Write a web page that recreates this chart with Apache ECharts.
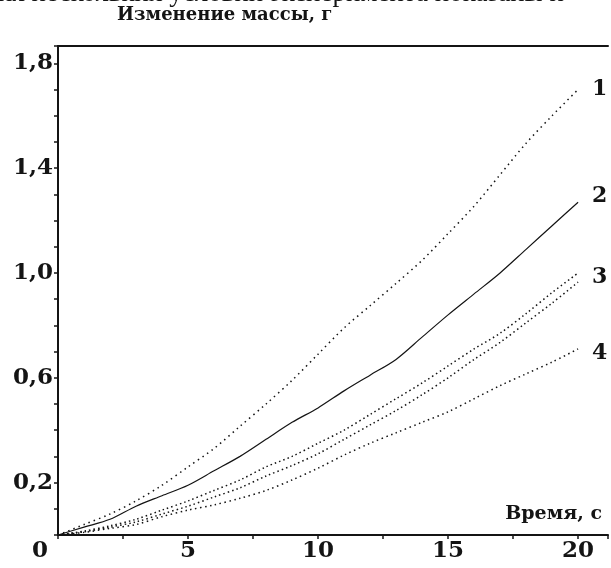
<!DOCTYPE html>
<html>
<head>
<meta charset="utf-8">
<script src="https://cdn.jsdelivr.net/npm/echarts@6/dist/echarts.min.js"></script>
<style>
  html, body { margin: 0; padding: 0; background: #fff; }
  #chart { width: 611px; height: 568px; }
</style>
</head>
<body>
<div id="chart"></div>
<script>
// время, с
var timeData = [0, 1, 2, 3, 4, 5, 6, 7, 8, 9, 10, 11, 12, 13, 14, 15, 16, 17, 18, 19, 20];
// изменение массы, г
var curve1 = [0, 0.04, 0.08, 0.13, 0.19, 0.26, 0.33, 0.415, 0.50, 0.59, 0.69, 0.79, 0.875, 0.96, 1.048, 1.15, 1.255, 1.375, 1.495, 1.60, 1.70];
var curve2 = [0, 0.03, 0.06, 0.11, 0.15, 0.19, 0.245, 0.30, 0.365, 0.43, 0.485, 0.55, 0.61, 0.67, 0.755, 0.84, 0.92, 1.00, 1.09, 1.18, 1.27];
var curve3a = [0, 0.015, 0.035, 0.06, 0.095, 0.13, 0.17, 0.21, 0.26, 0.30, 0.35, 0.40, 0.46, 0.52, 0.58, 0.645, 0.71, 0.77, 0.845, 0.925, 1.0];
var curve3b = [0, 0.012, 0.03, 0.05, 0.08, 0.11, 0.145, 0.18, 0.225, 0.265, 0.31, 0.365, 0.42, 0.475, 0.535, 0.60, 0.67, 0.735, 0.81, 0.885, 0.965];
var curve4 = [0, 0.01, 0.025, 0.04, 0.07, 0.095, 0.115, 0.14, 0.17, 0.21, 0.255, 0.305, 0.35, 0.39, 0.43, 0.47, 0.52, 0.57, 0.615, 0.66, 0.71];

var yLabels = [0.2, 0.6, 1.0, 1.4, 1.8];
var xLabels = [5, 10, 15, 20];

var ink = '#141414';
var serif = '"Liberation Serif", "Times New Roman", serif';
var slab = '"DejaVu Serif", serif';

function pairs(ys) {
  return timeData.map(function (t, i) { return [t, ys[i]]; });
}

function makeLine(name, ys, dash, width, label) {
  var s = {
    name: name,
    type: 'line',
    data: pairs(ys),
    smooth: 0.3,
    symbol: 'none',
    lineStyle: { color: ink, width: width, type: dash },
    silent: true
  };
  if (label) {
    s.endLabel = {
      show: true,
      formatter: label.text,
      offset: label.offset,
      color: ink,
      fontFamily: slab,
      fontWeight: 'bold',
      fontSize: 22
    };
  }
  return s;
}

var chart = echarts.init(document.getElementById('chart'));

var option = {
  animation: false,
  backgroundColor: '#fff',
  grid: { left: 58, right: 0, top: 46, bottom: 33 },
  xAxis: [
    {
      type: 'value',
      min: 0,
      max: 21.15,
      interval: 2.5,
      axisLine: { show: true, lineStyle: { color: ink, width: 2 } },
      axisTick: { show: true, length: 4, lineStyle: { color: ink, width: 1.5 } },
      splitLine: { show: false },
      axisLabel: {
        margin: 5,
        color: ink,
        fontFamily: slab,
        fontWeight: 'bold',
        fontSize: 23,
        formatter: function (v) {
          return xLabels.indexOf(Math.round(v * 10) / 10) >= 0 ? String(v) : '';
        }
      }
    },
    {
      // верхняя рамка
      type: 'value',
      position: 'top',
      min: 0,
      max: 21.15,
      axisLine: { show: true, lineStyle: { color: ink, width: 2 } },
      axisTick: { show: false },
      axisLabel: { show: false },
      splitLine: { show: false }
    }
  ],
  yAxis: {
    type: 'value',
    min: 0,
    max: 1.866,
    interval: 0.1,
    axisLine: { show: true, lineStyle: { color: ink, width: 2 } },
    axisTick: { show: true, length: 4, lineStyle: { color: ink, width: 1.5 } },
    splitLine: { show: false },
    axisLabel: {
      margin: 5,
      color: ink,
      fontFamily: slab,
      fontWeight: 'bold',
      fontSize: 23,
      formatter: function (v) {
        var r = Math.round(v * 10) / 10;
        return yLabels.indexOf(r) >= 0 ? r.toFixed(1).replace('.', ',') : '';
      }
    }
  },
  graphic: [
    {
      // обрезанная строка текста над рисунком
      type: 'text',
      left: -2,
      top: -20,
      style: {
        text: 'ия нескольких условий эксперимента показаны н',
        font: '27px ' + serif,
        fill: ink
      }
    },
    {
      type: 'text',
      left: 117,
      top: 6,
      style: {
        text: 'Изменение массы, г',
        font: 'bold 18px ' + slab,
        fill: ink
      }
    },
    {
      type: 'text',
      right: 9,
      top: 505,
      style: {
        text: 'Время, с',
        font: 'bold 19px ' + slab,
        fill: ink
      }
    },
    {
      type: 'text',
      left: 32,
      top: 540,
      style: {
        text: '0',
        font: 'bold 23px ' + slab,
        fill: ink
      }
    }
  ],
  series: [
    makeLine('1', curve1, [1.5, 4], 1.5, { text: '1', offset: [6, 0] }),
    makeLine('2', curve2, 'solid', 1.2, { text: '2', offset: [6, -6] }),
    makeLine('3a', curve3a, [1.5, 3], 1.5, { text: '3', offset: [6, 4] }),
    makeLine('3b', curve3b, [1.5, 3], 1.5, null),
    makeLine('4', curve4, [1.5, 3.5], 1.5, { text: '4', offset: [6, 4] })
  ]
};

chart.setOption(option);
</script>
</body>
</html>
